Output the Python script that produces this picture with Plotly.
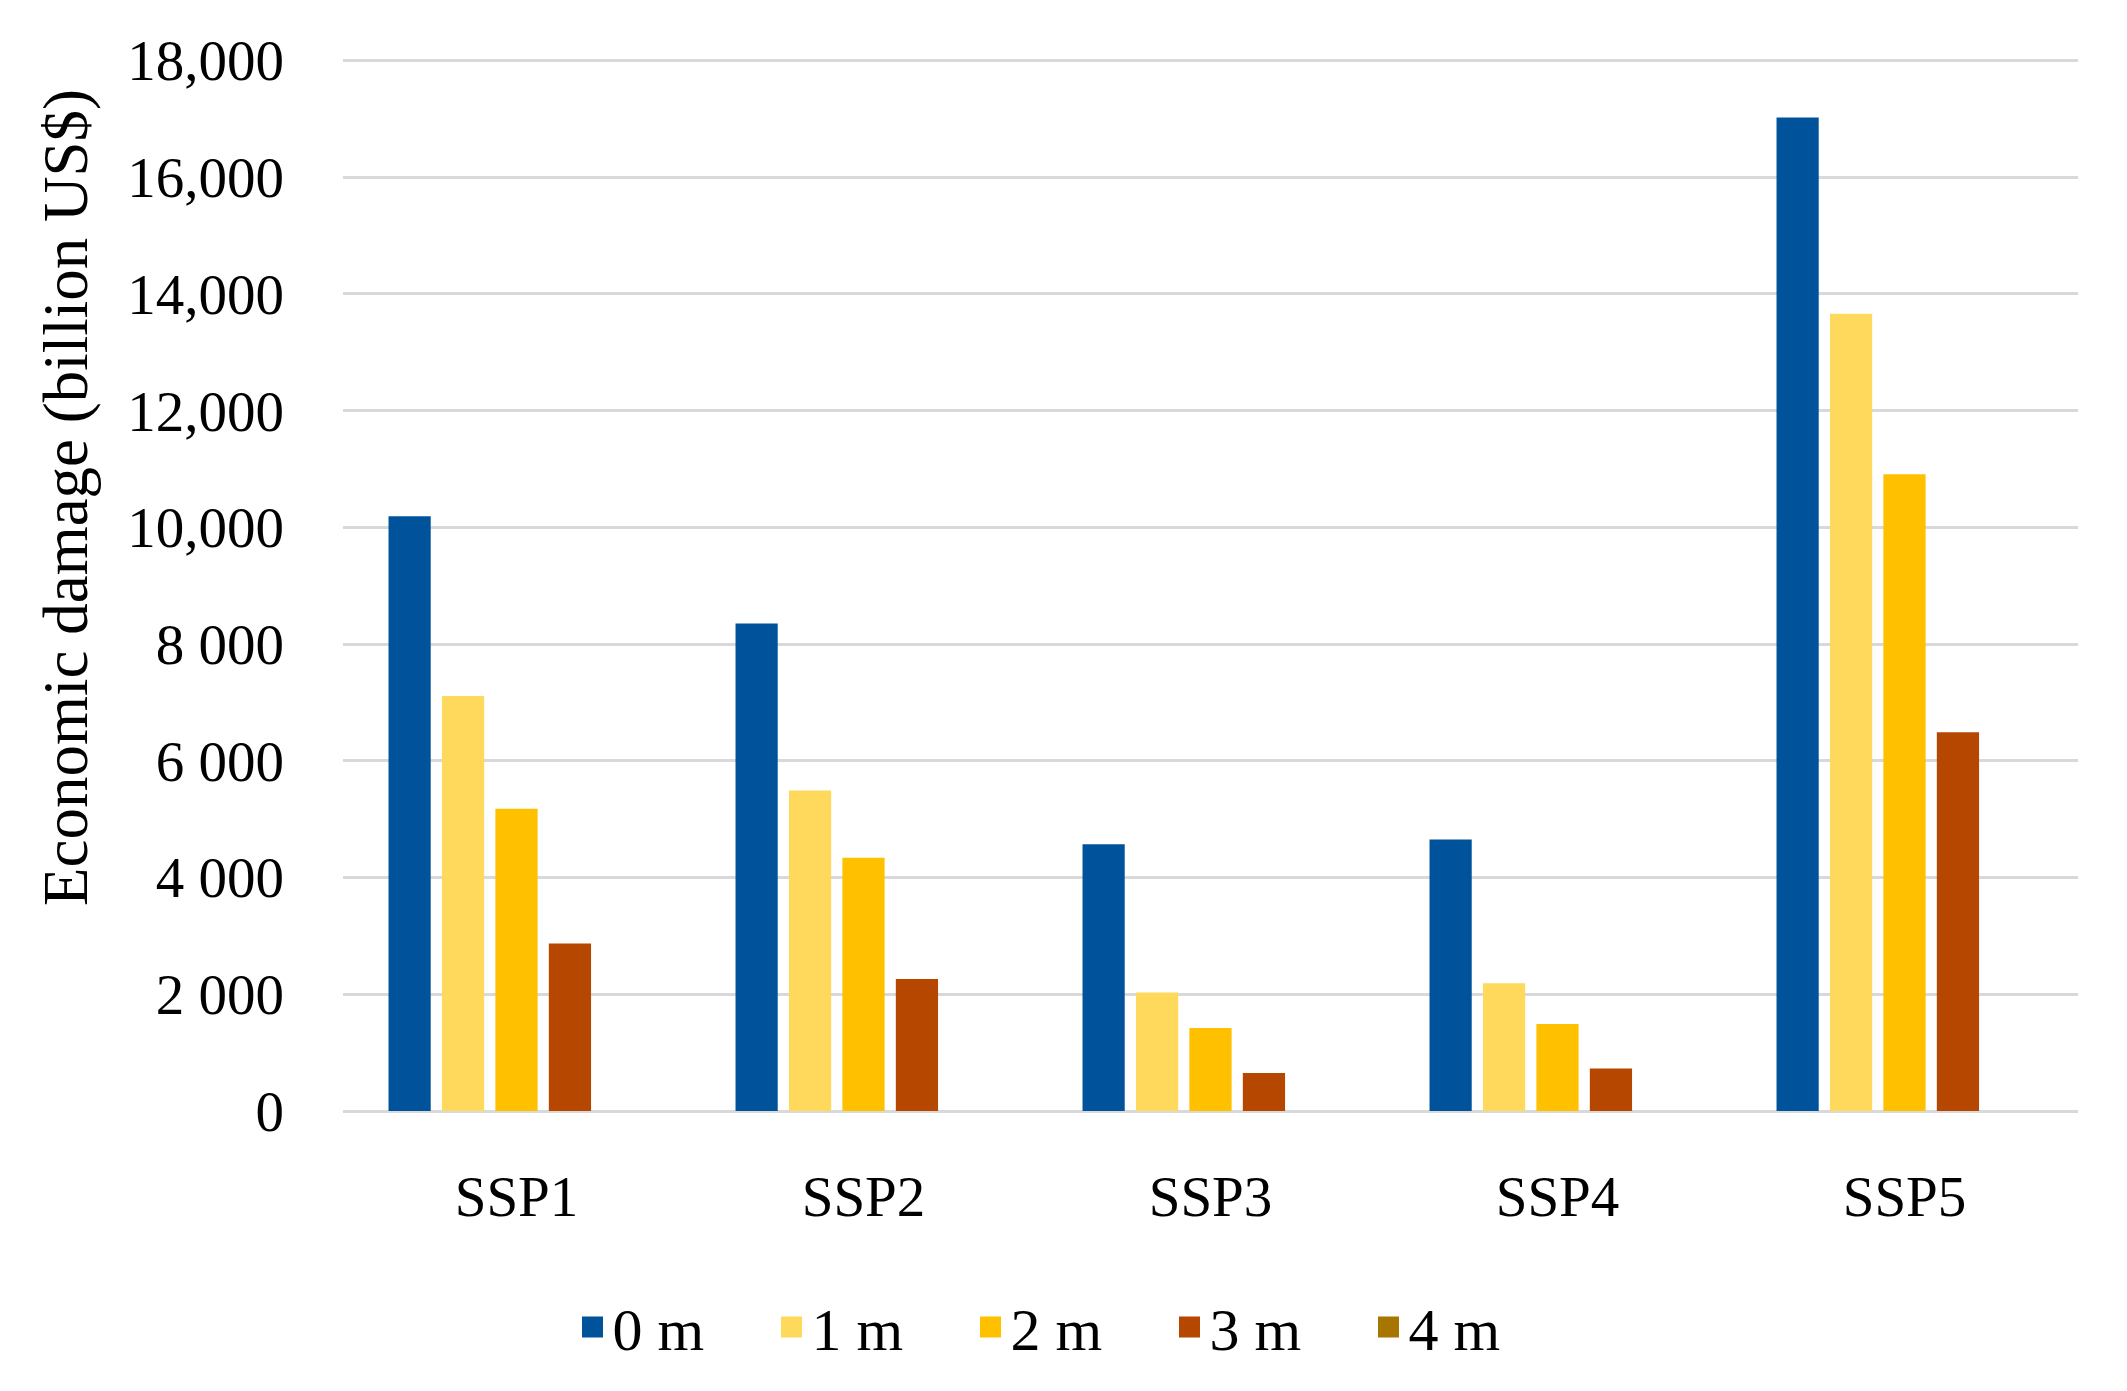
import plotly.graph_objects as go

categories = ["SSP1", "SSP2", "SSP3", "SSP4", "SSP5"]
series_names = ["0 m", "1 m", "2 m", "3 m", "4 m"]
values_0m = [10190, 8350, 4570, 4650, 17020]
values_1m = [7110, 5490, 2030, 2190, 13660]
values_2m = [5180, 4340, 1420, 1490, 10910]
values_3m = [2870, 2260, 650, 730, 6490]
values_4m = [0, 0, 0, 0, 0]
series_colors = ["#00539B", "#FFD95C", "#FFC000", "#B54700", "#A67600"]
ytick_values = [0, 2000, 4000, 6000, 8000, 10000, 12000, 14000, 16000, 18000]
ytick_labels = ["0", "2 000", "4 000", "6 000", "8 000", "10,000", "12,000", "14,000", "16,000", "18,000"]
y_title = "Economic damage (billion US$)"

FONT = "Liberation Serif"
FS = 57

fig = go.Figure()
all_values = [values_0m, values_1m, values_2m, values_3m, values_4m]
for name, vals, col in zip(series_names, all_values, series_colors):
    fig.add_trace(go.Bar(x=categories, y=vals, name=name, showlegend=False,
                         marker=dict(color=col, line=dict(width=0))))
# legend entries (larger square swatches)
for name, col in zip(series_names, series_colors):
    fig.add_trace(go.Scatter(x=[None], y=[None], mode="markers", name=name,
                             marker=dict(symbol="square", size=16, color=col,
                                         line=dict(color=col, width=5))))

W, H = 2127, 1391
OFF = 8  # page body offset
L, R, T, B = 343 - OFF, W - (2078 - OFF), 58 - OFF, H - (1111 - OFF)
pw, ph = W - L - R, H - T - B

fig.update_layout(
    width=W, height=H,
    margin=dict(l=L, r=R, t=T, b=B, pad=0),
    paper_bgcolor="white", plot_bgcolor="white",
    barmode="group", bargap=0.23, bargroupgap=0.21,
    font=dict(family=FONT, size=FS, color="#000000"),
    showlegend=True,
    legend=dict(orientation="h", xanchor="center", yanchor="middle",
                x=(1070 - OFF - L) / pw, y=(T + ph - (1327 - OFF)) / ph,
                font=dict(family=FONT, size=60, color="#000000"),
                entrywidth=154, entrywidthmode="pixels",
                traceorder="normal"),
    xaxis=dict(showgrid=False, showline=False, zeroline=False,
               ticks="outside", ticklen=0, ticklabelstandoff=36,
               tickfont=dict(family=FONT, size=FS, color="#000000")),
    yaxis=dict(range=[0, 18040], showgrid=True, gridcolor="#D9D9D9", gridwidth=3,
               zeroline=True, zerolinecolor="#D9D9D9", zerolinewidth=3,
               showline=False, tickmode="array", tickvals=ytick_values, ticktext=ytick_labels,
               ticklabelstandoff=58,
               tickfont=dict(family=FONT, size=FS, color="#000000")),
    annotations=[dict(text=y_title, textangle=-90, xref="paper", yref="paper",
                      x=(66 - OFF - L) / pw, y=(T + ph - (498 - OFF)) / ph,
                      xanchor="center", yanchor="middle",
                      showarrow=False, font=dict(family=FONT, size=63, color="#000000"))],
)

fig.write_html("out.html")
